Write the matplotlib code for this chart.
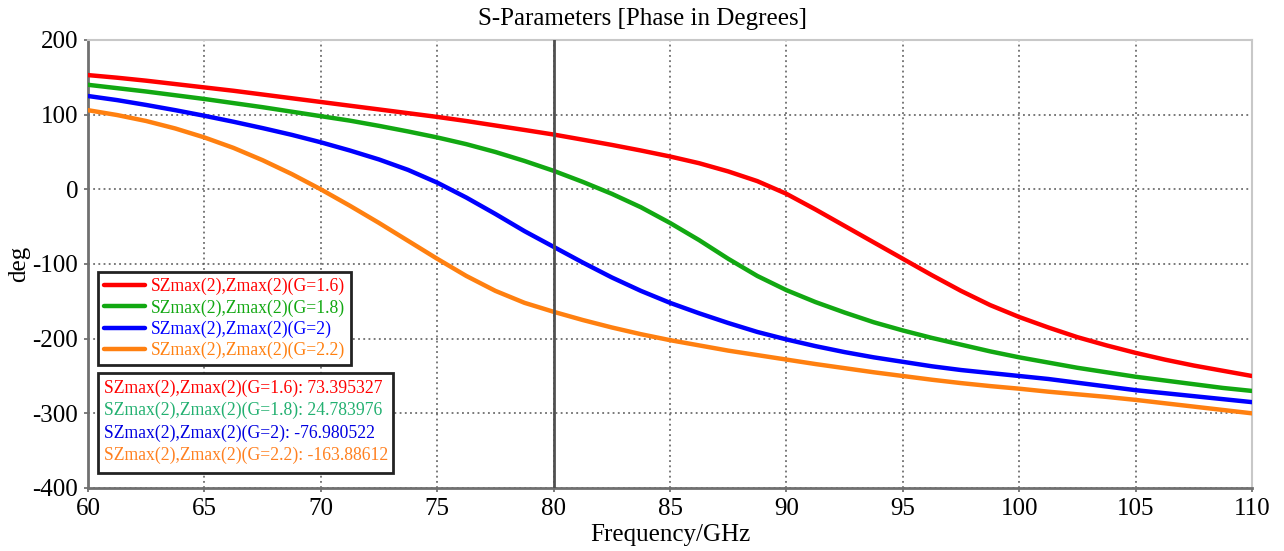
import matplotlib
matplotlib.use('Agg')
import matplotlib.pyplot as plt
from matplotlib.patches import Rectangle

# values, 1.25 GHz steps
freq = [60, 61.25, 62.5, 63.75, 65, 66.25, 67.5, 68.75, 70, 71.25,
        72.5, 73.75, 75, 76.25, 77.5, 78.75, 80, 81.25, 82.5, 83.75,
        85, 86.25, 87.5, 88.75, 90, 91.25, 92.5, 93.75, 95, 96.25,
        97.5, 98.75, 100, 101.25, 102.5, 103.75, 105, 106.25, 107.5, 108.75, 110]
phase_g16 = [153, 149.5, 145.5, 141, 136.5, 132, 127, 122, 117, 112,
             107, 102, 97, 91.5, 85.5, 79.5, 73.4, 66.5, 59.5, 52,
             44, 35, 24, 11, -6, -27, -49, -71, -93, -115,
             -136, -155, -171, -185, -198, -209, -219, -228, -236, -243, -250]
phase_g18 = [140, 135.5, 131, 126, 121, 115.5, 110, 104, 98, 92,
             85, 77.5, 69.5, 60.5, 50, 38, 24.8, 10, -6, -24,
             -45, -68, -93, -116, -135, -151, -165, -178, -189, -199,
             -208, -217, -225, -232, -239, -245, -251, -256, -261, -266, -270]
phase_g20 = [125, 119.5, 113, 106, 98.5, 90.5, 82, 73, 63, 52,
             40, 26, 9, -11, -33, -56, -77, -98, -118, -136,
             -152, -166, -179, -191, -201, -210, -218, -225, -231, -237,
             -242, -246, -250, -254, -259, -264, -269, -273, -277, -281, -285]
phase_g22 = [106, 99.5, 91.5, 81.5, 69.5, 55.5, 39, 20.5, 0, -22,
             -45, -69, -93, -116, -136, -152, -164, -175, -185, -194,
             -202, -209, -216, -222, -228, -234, -239.5, -245, -250, -255,
             -259.5, -263.5, -267, -271, -274.5, -278, -282, -286.5, -291, -295.5, -300]

labels = ['SZmax(2),Zmax(2)(G=1.6)', 'SZmax(2),Zmax(2)(G=1.8)',
          'SZmax(2),Zmax(2)(G=2)', 'SZmax(2),Zmax(2)(G=2.2)']
line_colors = ['#ff0000', '#12a812', '#0000ff', '#ff8010']
marker_colors = ['#ff0000', '#22b070', '#0000e0', '#ff8020']
marker_freq = 80
marker_values = ['73.395327', '24.783976', '-76.980522', '-163.88612']

plt.rcParams['font.family'] = ['Liberation Serif', 'DejaVu Serif']
plt.rcParams['axes.unicode_minus'] = False

fig = plt.figure(figsize=(12.84, 5.51), dpi=100)
ax = fig.add_axes([88/1284, 1-488/551, (1252-88)/1284, (488-40)/551])

for ys, lab, c in zip([phase_g16, phase_g18, phase_g20, phase_g22], labels, line_colors):
	ax.plot(freq, ys, color=c, lw=3.2, label=lab, solid_joinstyle='round',
	        solid_capstyle='round', zorder=3)

ax.axvline(marker_freq, color='#505050', lw=2, zorder=4)

ax.set_xlim(60, 110)
ax.set_ylim(-400, 200)
ax.set_xticks(range(60, 111, 5))
ax.set_yticks(range(-400, 201, 100))
ax.grid(True, color='#555555', ls=(0, (1.2, 2.2)), lw=1.1)
ax.tick_params(labelsize=18, length=3, width=1.2, color='#666666', pad=4)
for s in ['left', 'bottom']:
	ax.spines[s].set_color('#707070')
	ax.spines[s].set_linewidth(2)
for s in ['top', 'right']:
	ax.spines[s].set_color('#c8c8c8')
	ax.spines[s].set_linewidth(1.5)

ax.set_xlabel('Frequency/GHz', fontsize=18, labelpad=3)
ax.set_ylabel('deg', fontsize=18, labelpad=2)
fig.suptitle('S-Parameters [Phase in Degrees]', fontsize=18, x=0.5, y=0.985, va='top')

leg = ax.legend(loc='upper left', bbox_to_anchor=(98/1284, 1-272/551),
                bbox_transform=fig.transFigure, borderaxespad=0,
                fontsize=12.7, labelcolor='linecolor', handlelength=2.3,
                handletextpad=0.35, labelspacing=0.22, borderpad=0.35,
                fancybox=False, framealpha=1)
leg.get_frame().set_edgecolor('#222222')
leg.get_frame().set_linewidth(2)
leg.set_zorder(6)

# marker readout box
fig.add_artist(Rectangle((98/1284, 1-473/551), (393-98)/1284, (473-373)/551,
                         transform=fig.transFigure, facecolor='white',
                         edgecolor='#222222', lw=2, zorder=6))
for i, (lab, v, c) in enumerate(zip(labels, marker_values, marker_colors)):
	fig.text(104/1284, 1-(388 + i*22.5)/551, f'{lab}: {v}', color=c,
	         fontsize=12.7, va='center', ha='left', zorder=7)

fig.savefig('out.png', dpi=100)
